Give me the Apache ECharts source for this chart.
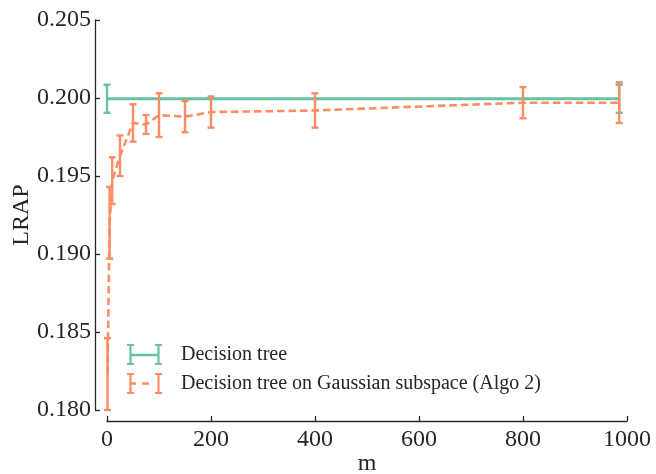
<!DOCTYPE html>
<html>
<head>
<meta charset="utf-8">
<script src="https://cdn.jsdelivr.net/npm/echarts@6/dist/echarts.min.js"></script>
<style>html,body{margin:0;padding:0;background:#fff;}#c{width:656px;height:474px;}</style>
</head>
<body>
<div id="c"></div>
<script>
// ---- data ----
const xTicks = [0, 200, 400, 600, 800, 1000];
const yTicks = [0.180, 0.185, 0.190, 0.195, 0.200, 0.205];
const treeM = [0, 985];
const treeMean = [0.19995, 0.19995];
const treeErr = [0.0009, 0.0009];
const gaussM = [1, 5, 10, 25, 50, 75, 100, 150, 200, 400, 800, 985];
const gaussMean = [0.1823, 0.1920, 0.1947, 0.1963, 0.1984, 0.1983, 0.1989, 0.1988, 0.1991, 0.1992, 0.1997, 0.1997];
const gaussErr = [0.0023, 0.0023, 0.0015, 0.0013, 0.0012, 0.0006, 0.0014, 0.0010, 0.0010, 0.0011, 0.0010, 0.0013];
const names = ['Decision tree', 'Decision tree on Gaussian subspace (Algo 2)'];
const colors = ['#66c2a5', '#fc8d62'];

const FONT = '"Liberation Serif", "DejaVu Serif", serif';
const TXT = '#262626';

function lineData(xs, ys) { return xs.map((x, i) => [x, ys[i]]); }
function errData(xs, ys, es) { return xs.map((x, i) => [x, ys[i] - es[i], ys[i] + es[i]]); }

function errRender(color) {
  return function (params, api) {
    const x = api.value(0);
    const lo = api.coord([x, api.value(1)]);
    const hi = api.coord([x, api.value(2)]);
    const hw = 3.5;
    const st = { stroke: color, lineWidth: 2.4 };
    return {
      type: 'group',
      children: [
        { type: 'line', shape: { x1: lo[0], y1: lo[1], x2: hi[0], y2: hi[1] }, style: st },
        { type: 'line', shape: { x1: lo[0] - hw, y1: lo[1], x2: lo[0] + hw, y2: lo[1] }, style: st },
        { type: 'line', shape: { x1: hi[0] - hw, y1: hi[1], x2: hi[0] + hw, y2: hi[1] }, style: st }
      ]
    };
  };
}

const iconTree = 'path://M0,0 L7,0 L7,2 L4.6,2 L4.6,9.8 L30.4,9.8 L30.4,2 L28,2 L28,0 L35,0 L35,2 L32.6,2 L32.6,19 L35,19 L35,21 L28,21 L28,19 L30.4,19 L30.4,12.2 L4.6,12.2 L4.6,19 L7,19 L7,21 L0,21 L0,19 L2.4,19 L2.4,2 L0,2 Z';
const iconGauss = 'path://M0,0 L7,0 L7,2 L4.6,2 L4.6,9.3 L9,9.3 L9,11.7 L4.6,11.7 L4.6,19 L7,19 L7,21 L0,21 L0,19 L2.4,19 L2.4,2 L0,2 Z M15,9.3 L22,9.3 L22,11.7 L15,11.7 Z M28,0 L35,0 L35,2 L32.6,2 L32.6,19 L35,19 L35,21 L28,21 L28,19 L30.4,19 L30.4,2 L28,2 Z';

const chart = echarts.init(document.getElementById('c'), null, { renderer: 'canvas' });
chart.setOption({
  animation: false,
  backgroundColor: '#fff',
  grid: { left: 107, right: 29, top: 20, bottom: 64, containLabel: false, outerBoundsMode: 'none' },
  legend: {
    orient: 'vertical',
    left: 127, top: 344, padding: 0,
    itemWidth: 35, itemHeight: 21, itemGap: 8,
    textStyle: { fontFamily: FONT, fontSize: 20, color: TXT, padding: [0, 0, 0, 14] },
    data: [
      { name: names[0], icon: iconTree },
      { name: names[1], icon: iconGauss }
    ]
  },
  xAxis: {
    type: 'value', min: xTicks[0], max: xTicks[xTicks.length - 1], interval: 200,
    offset: 11,
    name: 'm', nameLocation: 'middle', nameGap: 31, nameMoveOverlap: false,
    nameTextStyle: { fontFamily: FONT, fontSize: 24, color: TXT },
    axisLine: { show: true, onZero: false, lineStyle: { color: TXT, width: 1.3 } },
    axisTick: { show: true, inside: true, length: 5, lineStyle: { color: TXT, width: 1.3 } },
    axisLabel: { fontFamily: FONT, fontSize: 24, color: TXT, margin: 7,
      formatter: v => xTicks.includes(v) ? String(v) : '' },
    splitLine: { show: false }
  },
  yAxis: {
    type: 'value', min: yTicks[0], max: yTicks[yTicks.length - 1], interval: 0.005,
    offset: 12,
    name: 'LRAP', nameLocation: 'middle', nameGap: 61, nameRotate: 90, nameMoveOverlap: false,
    nameTextStyle: { fontFamily: FONT, fontSize: 24, color: TXT },
    axisLine: { show: true, onZero: false, lineStyle: { color: TXT, width: 1.3 } },
    axisTick: { show: true, inside: true, length: 5, lineStyle: { color: TXT, width: 1.3 } },
    axisLabel: { fontFamily: FONT, fontSize: 24, color: TXT, margin: 4,
      formatter: v => v.toFixed(3) },
    splitLine: { show: false }
  },
  series: [
    { name: names[0], type: 'line', data: lineData(treeM, treeMean), showSymbol: false, symbol: 'none',
      color: colors[0], lineStyle: { color: colors[0], width: 3 }, z: 2 },
    { name: names[0], type: 'custom', data: errData(treeM, treeMean, treeErr), renderItem: errRender(colors[0]),
      color: colors[0], clip: false, z: 2 },
    { name: names[1], type: 'line', data: lineData(gaussM, gaussMean), showSymbol: false, symbol: 'none',
      color: colors[1], lineStyle: { color: colors[1], width: 2.6, type: [7.5, 4] }, z: 3 },
    { name: names[1], type: 'custom', data: errData(gaussM, gaussMean, gaussErr), renderItem: errRender(colors[1]),
      color: colors[1], clip: false, z: 3 }
  ]
});
</script>
</body>
</html>
